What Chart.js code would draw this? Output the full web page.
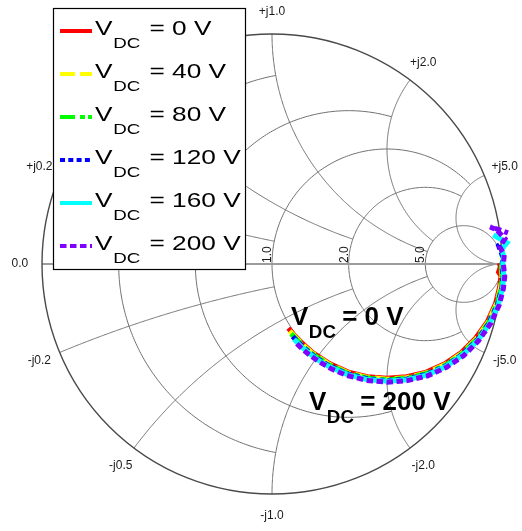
<!DOCTYPE html>
<html>
<head>
<meta charset="utf-8">
<script src="https://cdn.jsdelivr.net/npm/chart.js@4.4.1/dist/chart.umd.min.js"></script>
<style>
  html, body { margin: 0; padding: 0; background: #ffffff; }
  #wrap { width: 522px; height: 531px; position: relative; }
</style>
</head>
<body>
<div id="wrap"><canvas id="smith" width="522" height="531"></canvas></div>
<script>
// DC bias of each measured trace
const biasValues = ['0 V', '40 V', '80 V', '120 V', '160 V', '200 V'];

// Reflection coefficient, real and imaginary parts, per bias
const re0V = [0.071, 0.094, 0.125, 0.177, 0.250, 0.329, 0.414, 0.500, 0.586, 0.671, 0.751, 0.823, 0.885, 0.936, 0.972, 0.989, 0.996, 0.985, 0.993, 0.988];
const im0V = [-0.279, -0.306, -0.338, -0.385, -0.433, -0.469, -0.490, -0.497, -0.490, -0.470, -0.434, -0.385, -0.323, -0.252, -0.172, -0.104, -0.052, -0.035, -0.012, 0.004];

const re40V = [0.077, 0.104, 0.135, 0.175, 0.249, 0.328, 0.413, 0.500, 0.587, 0.672, 0.753, 0.825, 0.888, 0.939, 0.976, 0.993, 1.000, 0.997, 1.001, 0.996];
const im40V = [-0.291, -0.320, -0.352, -0.387, -0.436, -0.472, -0.493, -0.501, -0.494, -0.474, -0.437, -0.388, -0.326, -0.254, -0.173, -0.105, -0.053, -0.020, 0.008, 0.026];

const re80V = [0.083, 0.108, 0.139, 0.173, 0.247, 0.327, 0.413, 0.500, 0.588, 0.673, 0.754, 0.827, 0.891, 0.942, 0.978, 0.996, 1.002, 0.998, 1.003, 0.999, 1.004];
const im80V = [-0.303, -0.329, -0.361, -0.389, -0.438, -0.475, -0.496, -0.504, -0.497, -0.476, -0.440, -0.390, -0.328, -0.255, -0.174, -0.105, -0.053, -0.015, 0.022, 0.050, 0.055];

const re120V = [0.090, 0.111, 0.144, 0.185, 0.245, 0.326, 0.412, 0.500, 0.588, 0.674, 0.756, 0.829, 0.893, 0.944, 0.981, 0.999, 1.005, 1.000, 1.004, 0.985, 1.012, 0.995];
const im120V = [-0.315, -0.338, -0.369, -0.403, -0.441, -0.477, -0.499, -0.507, -0.500, -0.479, -0.443, -0.392, -0.330, -0.257, -0.175, -0.106, -0.053, -0.010, 0.030, 0.080, 0.100, 0.092];

const re160V = [0.096, 0.121, 0.155, 0.198, 0.244, 0.325, 0.412, 0.500, 0.589, 0.675, 0.757, 0.831, 0.895, 0.947, 0.984, 1.002, 1.008, 1.003, 1.006, 0.998, 1.022, 0.962];
const im160V = [-0.327, -0.353, -0.383, -0.416, -0.444, -0.480, -0.502, -0.510, -0.503, -0.482, -0.445, -0.394, -0.332, -0.258, -0.176, -0.107, -0.053, -0.005, 0.040, 0.062, 0.092, 0.126];

const re200V = [0.108, 0.131, 0.159, 0.203, 0.258, 0.324, 0.411, 0.500, 0.589, 0.677, 0.759, 0.834, 0.898, 0.950, 0.988, 1.006, 1.012, 1.006, 1.010, 0.990, 1.013, 0.975, 0.948, 0.991, 1.026];
const im200V = [-0.347, -0.369, -0.392, -0.424, -0.456, -0.484, -0.506, -0.514, -0.507, -0.486, -0.449, -0.398, -0.334, -0.260, -0.178, -0.108, -0.054, 0.000, 0.040, 0.075, 0.110, 0.150, 0.161, 0.148, 0.135];

// Smith chart grid: circle value and the value of the crossing line where it stops
const resistanceGrid = [0.2, 0.5, 1, 2, 5];
const resistanceStop = [1, 2, 5, 5, Infinity];
const reactanceGrid = [0.2, 0.5, 1, 2, 5];
const reactanceStop = [1, 2, 5, 5, Infinity];

// Axis tick labels
const realTickLabels = ['0.2', '0.5', '1.0', '2.0', '5.0'];
const imagTickValues = [0.2, 0.5, 1, 2, 5, -0.2, -0.5, -1, -2, -5];
const imagTickLabels = ['+j0.2', '+j0.5', '+j1.0', '+j2.0', '+j5.0', '-j0.2', '-j0.5', '-j1.0', '-j2.0', '-j5.0'];

const reSeries = [re0V, re40V, re80V, re120V, re160V, re200V];
const imSeries = [im0V, im40V, im80V, im120V, im160V, im200V];

const lineColors = ['#ff0000', '#ffff00', '#00ff00', '#0000ff', '#00ffff', '#7f00ff'];
const lineDashes = [[], [15, 5], [15, 5, 5, 3], [5, 3.3], [], [6.5, 3.5]];

function gammaOf(r, x) {
  // (z - 1) / (z + 1) for z = r + jx
  const a = r - 1, b = x, c = r + 1, d = x;
  const den = c * c + d * d;
  return [(a * c + b * d) / den, (b * c - a * d) / den];
}

const smithGrid = {
  id: 'smithGrid',
  beforeDatasetsDraw(chart) {
    const ctx = chart.ctx;
    const xs = chart.scales.x, ys = chart.scales.y;
    const P = (g) => [xs.getPixelForValue(g[0]), ys.getPixelForValue(g[1])];
    ctx.save();
    ctx.lineWidth = 1;
    ctx.strokeStyle = '#6e6e6e';

    // constant resistance circles
    resistanceGrid.forEach((r, i) => {
      const c = r / (1 + r), rad = 1 / (1 + r);
      const stop = resistanceStop[i];
      let t0 = 0;
      if (isFinite(stop)) {
        const g = gammaOf(r, stop);
        t0 = Math.atan2(g[1], g[0] - c);
      }
      const t1 = 2 * Math.PI - t0;
      ctx.beginPath();
      const n = 240;
      for (let k = 0; k <= n; k++) {
        const t = t0 + (t1 - t0) * k / n;
        const p = P([c + rad * Math.cos(t), rad * Math.sin(t)]);
        if (k === 0) ctx.moveTo(p[0], p[1]); else ctx.lineTo(p[0], p[1]);
      }
      ctx.stroke();
    });

    // constant reactance arcs
    reactanceGrid.forEach((x, i) => {
      const stop = reactanceStop[i];
      [1, -1].forEach(sgn => {
        const xv = x * sgn;
        const cy = 1 / xv;
        const g0 = gammaOf(0, xv);
        const g1 = isFinite(stop) ? gammaOf(stop, xv) : [1, 0];
        let a0 = Math.atan2(g0[1] - cy, g0[0] - 1);
        let a1 = Math.atan2(g1[1] - cy, g1[0] - 1);
        if (sgn > 0) { if (a0 > 0) a0 -= 2 * Math.PI; if (a1 > 0) a1 -= 2 * Math.PI; }
        else { if (a0 < 0) a0 += 2 * Math.PI; if (a1 < 0) a1 += 2 * Math.PI; }
        const rad = Math.abs(1 / xv);
        ctx.beginPath();
        const n = 240;
        for (let k = 0; k <= n; k++) {
          const t = a0 + (a1 - a0) * k / n;
          const p = P([1 + rad * Math.cos(t), cy + rad * Math.sin(t)]);
          if (k === 0) ctx.moveTo(p[0], p[1]); else ctx.lineTo(p[0], p[1]);
        }
        ctx.stroke();
      });
    });

    // real axis
    ctx.strokeStyle = '#9c9c9c';
    ctx.lineWidth = 2;
    const l = P([-1, 0]), rgt = P([1, 0]);
    ctx.beginPath(); ctx.moveTo(l[0], l[1]); ctx.lineTo(rgt[0], rgt[1]); ctx.stroke();

    // outer unit circle
    const cen = P([0, 0]);
    const R = xs.getPixelForValue(1) - cen[0];
    ctx.strokeStyle = '#4a4a4a';
    ctx.lineWidth = 1.4;
    ctx.beginPath(); ctx.arc(cen[0], cen[1], R, 0, 2 * Math.PI); ctx.stroke();

    // tick labels
    ctx.fillStyle = '#1a1a1a';
    ctx.font = '12px "Liberation Sans", Arial, sans-serif';
    ctx.textAlign = 'center';
    ctx.textBaseline = 'middle';
    const lp0 = P([-1.096, 0]);
    ctx.fillText('0.0', lp0[0], lp0[1]);
    imagTickValues.forEach((x, i) => {
      const g = gammaOf(0, x);
      const p = P([g[0] * 1.096, g[1] * 1.096]);
      ctx.fillText(imagTickLabels[i], p[0], p[1]);
    });
    resistanceGrid.forEach((r, i) => {
      const g = gammaOf(r, 0);
      const p = P(g);
      ctx.save();
      ctx.translate(p[0] - 1, p[1] - 1);
      ctx.rotate(-Math.PI / 2);
      ctx.textAlign = 'left';
      ctx.textBaseline = 'alphabetic';
      ctx.fillText(realTickLabels[i], 0, 0);
      ctx.restore();
    });
    ctx.restore();
  }
};

// "V" with a subscript, then the rest of the label
function subscriptText(ctx, x, y, big, small, subDrop, gap, sub, rest, weight, stretch) {
  ctx.save();
  ctx.translate(x, y);
  ctx.scale(stretch, 1);
  ctx.textAlign = 'left';
  ctx.textBaseline = 'alphabetic';
  const fam = 'px "Liberation Sans", Arial, sans-serif';
  ctx.font = weight + ' ' + big + fam;
  ctx.fillText('V', 0, 0);
  let w = ctx.measureText('V').width;
  ctx.font = weight + ' ' + small + fam;
  ctx.fillText(sub, w + 0.5, subDrop);
  w += 0.5 + ctx.measureText(sub).width;
  ctx.font = weight + ' ' + big + fam;
  ctx.fillText(rest, w + gap, 0);
  ctx.restore();
}

const overlay = {
  id: 'overlay',
  afterDatasetsDraw(chart) {
    const ctx = chart.ctx;
    ctx.save();
    ctx.fillStyle = '#000000';
    subscriptText(ctx, 291, 325, 25, 18, 13, 6, 'DC', '= 0 V', 'bold', 1.04);
    subscriptText(ctx, 309, 410, 25, 18, 13, 6, 'DC', '= 200 V', 'bold', 1.04);

    // legend box
    ctx.fillStyle = '#ffffff';
    ctx.fillRect(53, 8, 193, 262);
    ctx.strokeStyle = '#000000';
    ctx.lineWidth = 1.2;
    ctx.strokeRect(53.5, 8.5, 192, 261);
    chart.data.datasets.forEach((ds, i) => {
      const y = 31 + 43 * i;
      ctx.strokeStyle = ds.borderColor;
      ctx.lineWidth = 4;
      ctx.setLineDash(lineDashes[i]);
      ctx.beginPath(); ctx.moveTo(60, y); ctx.lineTo(92, y); ctx.stroke();
      ctx.setLineDash([]);
      ctx.fillStyle = '#000000';
      subscriptText(ctx, 95, y + 4, 21, 15, 13, 7.4, 'DC', '= ' + biasValues[i], 'normal', 1.25);
    });
    ctx.restore();
  }
};

const datasets = reSeries.map((re, i) => ({
  label: 'V_DC = ' + biasValues[i],
  data: re.map((v, k) => ({ x: v, y: imSeries[i][k] })),
  showLine: true,
  borderColor: lineColors[i],
  backgroundColor: lineColors[i],
  borderWidth: 5,
  borderDash: lineDashes[i],
  pointRadius: 0,
  fill: false,
  tension: 0,
  clip: false,
  order: reSeries.length - i
}));

new Chart(document.getElementById('smith'), {
  type: 'scatter',
  data: { datasets },
  options: {
    responsive: false,
    animation: false,
    layout: { padding: { left: 42, right: 20, top: 34, bottom: 37 } },
    scales: {
      x: { type: 'linear', min: -1, max: 1, display: false },
      y: { type: 'linear', min: -1, max: 1, display: false }
    },
    plugins: { legend: { display: false }, tooltip: { enabled: false } }
  },
  plugins: [smithGrid, overlay]
});
</script>
</body>
</html>
